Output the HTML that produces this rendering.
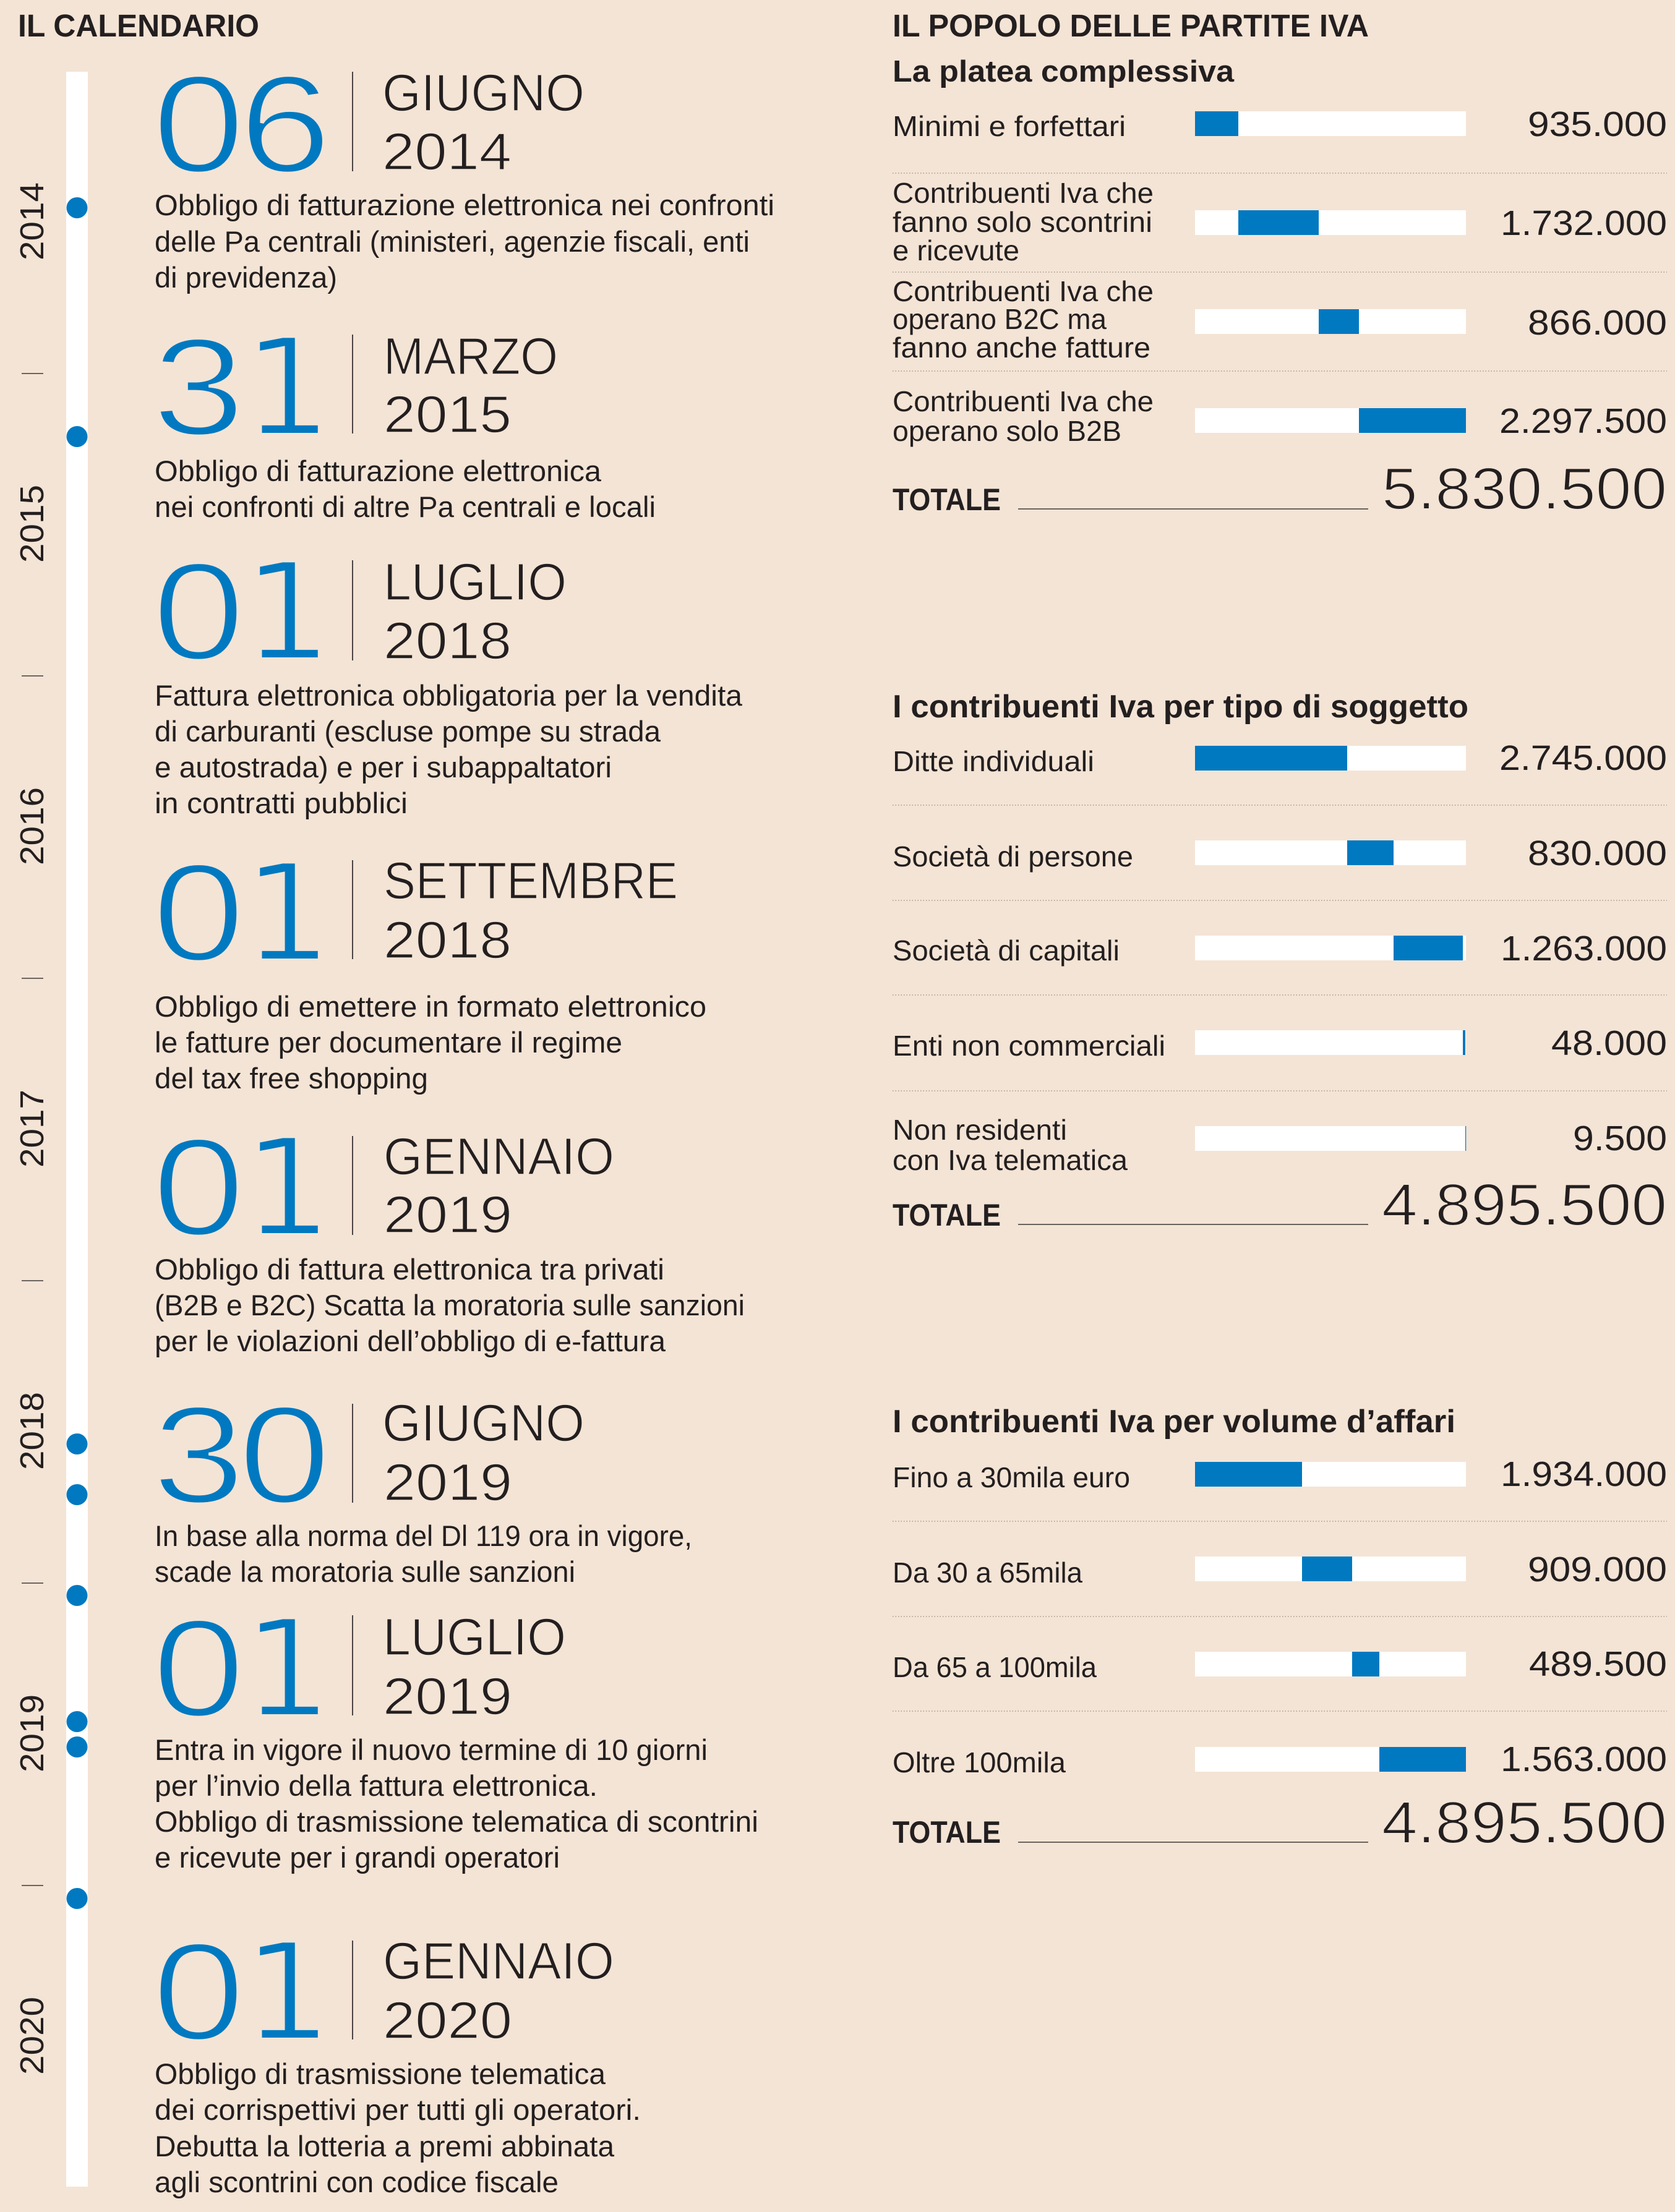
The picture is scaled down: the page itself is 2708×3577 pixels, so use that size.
<!DOCTYPE html>
<html><head><meta charset="utf-8"><style>
html,body{margin:0;padding:0;background:#f4e4d5;}
svg{display:block;}
.t{font-family:"Liberation Sans",sans-serif;fill:#231f20;}
.m{font-family:"Liberation Sans",sans-serif;fill:#231f20;stroke:#f4e4d5;stroke-width:1.5;}
.b{font-family:"Liberation Sans",sans-serif;font-weight:bold;fill:#231f20;}
.d{font-family:"Liberation Sans",sans-serif;fill:#0079c1;stroke:#f4e4d5;stroke-width:5;}
.d1{font-family:"DejaVu Sans",sans-serif;fill:#0079c1;stroke:#f4e4d5;stroke-width:6;}
.big{font-family:"Liberation Sans",sans-serif;fill:#231f20;stroke:#f4e4d5;stroke-width:2;}
.dot{stroke:#a0968c;stroke-width:1.5;stroke-dasharray:1.5 3;}
</style></head><body>
<svg width="2708" height="3577" viewBox="0 0 2708 3577" xmlns="http://www.w3.org/2000/svg">
<rect width="2708" height="3577" fill="#f4e4d5"/>

<!-- LEFT HEADER -->
<text class="b" x="29" y="59" font-size="51" textLength="390" lengthAdjust="spacingAndGlyphs">IL CALENDARIO</text>

<!-- TIMELINE -->
<rect x="107" y="116" width="35" height="3420" fill="#ffffff"/>
<g fill="#0079c1">
<circle cx="124.5" cy="336" r="17"/>
<circle cx="124.5" cy="706" r="17"/>
<circle cx="124.5" cy="2335" r="17"/>
<circle cx="124.5" cy="2417" r="17"/>
<circle cx="124.5" cy="2580" r="17"/>
<circle cx="124.5" cy="2784" r="17"/>
<circle cx="124.5" cy="2825" r="17"/>
<circle cx="124.5" cy="3070" r="17"/>
</g>
<g stroke="#6b6560" stroke-width="2">
<line x1="35" x2="70" y1="604" y2="604"/>
<line x1="35" x2="70" y1="1093" y2="1093"/>
<line x1="35" x2="70" y1="1582" y2="1582"/>
<line x1="35" x2="70" y1="2071" y2="2071"/>
<line x1="35" x2="70" y1="2560" y2="2560"/>
<line x1="35" x2="70" y1="3049" y2="3049"/>
</g>
<g class="t" font-size="54" text-anchor="middle">
<text transform="translate(70,358) rotate(-90)" textLength="126" lengthAdjust="spacingAndGlyphs">2014</text>
<text transform="translate(70,847) rotate(-90)" textLength="126" lengthAdjust="spacingAndGlyphs">2015</text>
<text transform="translate(70,1336) rotate(-90)" textLength="126" lengthAdjust="spacingAndGlyphs">2016</text>
<text transform="translate(70,1825) rotate(-90)" textLength="126" lengthAdjust="spacingAndGlyphs">2017</text>
<text transform="translate(70,2314) rotate(-90)" textLength="126" lengthAdjust="spacingAndGlyphs">2018</text>
<text transform="translate(70,2803) rotate(-90)" textLength="126" lengthAdjust="spacingAndGlyphs">2019</text>
<text transform="translate(70,3292) rotate(-90)" textLength="126" lengthAdjust="spacingAndGlyphs">2020</text>
</g>

<!-- DIVIDERS -->
<g stroke="#4a4543" stroke-width="2">
<line x1="570" x2="570" y1="116" y2="277"/>
<line x1="570" x2="570" y1="541" y2="701"/>
<line x1="570" x2="570" y1="906" y2="1068"/>
<line x1="570" x2="570" y1="1391" y2="1551"/>
<line x1="570" x2="570" y1="1837" y2="1997"/>
<line x1="570" x2="570" y1="2270" y2="2430"/>
<line x1="570" x2="570" y1="2612" y2="2774"/>
<line x1="570" x2="570" y1="3138" y2="3298"/>
</g>

<!-- BIG DIGITS -->
<g class="d" font-size="224" text-anchor="middle">
<text transform="translate(321,278) scale(1.2,1)">0</text><text transform="translate(461,278) scale(1.2,1)">6</text>
<text transform="translate(321,703) scale(1.2,1)">3</text>
<text transform="translate(321,1066) scale(1.2,1)">0</text>
<text transform="translate(321,1553) scale(1.2,1)">0</text>
<text transform="translate(321,1997) scale(1.2,1)">0</text>
<text transform="translate(321,2430) scale(1.2,1)">3</text><text transform="translate(460,2430) scale(1.2,1)">0</text>
<text transform="translate(321,2775) scale(1.2,1)">0</text>
<text transform="translate(321,3298) scale(1.2,1)">0</text>
</g>
<g class="d1" font-size="219" text-anchor="middle">
<text transform="translate(465,703) scale(1.05,1)">1</text>
<text transform="translate(465,1066) scale(1.05,1)">1</text>
<text transform="translate(465,1553) scale(1.05,1)">1</text>
<text transform="translate(465,1997) scale(1.05,1)">1</text>
<text transform="translate(465,2775) scale(1.05,1)">1</text>
<text transform="translate(465,3298) scale(1.05,1)">1</text>
</g>

<!-- MONTHS / YEARS -->
<g class="m" font-size="84">
<text x="618" y="179" textLength="327" lengthAdjust="spacingAndGlyphs">GIUGNO</text>
<text x="618" y="274" textLength="209" lengthAdjust="spacingAndGlyphs">2014</text>
<text x="620" y="605" textLength="282" lengthAdjust="spacingAndGlyphs">MARZO</text>
<text x="620" y="699" textLength="207" lengthAdjust="spacingAndGlyphs">2015</text>
<text x="620" y="970" textLength="296" lengthAdjust="spacingAndGlyphs">LUGLIO</text>
<text x="620" y="1065" textLength="207" lengthAdjust="spacingAndGlyphs">2018</text>
<text x="620" y="1453" textLength="476" lengthAdjust="spacingAndGlyphs">SETTEMBRE</text>
<text x="620" y="1549" textLength="207" lengthAdjust="spacingAndGlyphs">2018</text>
<text x="620" y="1899" textLength="373" lengthAdjust="spacingAndGlyphs">GENNAIO</text>
<text x="620" y="1993" textLength="208" lengthAdjust="spacingAndGlyphs">2019</text>
<text x="618" y="2330" textLength="327" lengthAdjust="spacingAndGlyphs">GIUGNO</text>
<text x="620" y="2426" textLength="208" lengthAdjust="spacingAndGlyphs">2019</text>
<text x="619" y="2676" textLength="296" lengthAdjust="spacingAndGlyphs">LUGLIO</text>
<text x="619" y="2772" textLength="209" lengthAdjust="spacingAndGlyphs">2019</text>
<text x="619" y="3200" textLength="374" lengthAdjust="spacingAndGlyphs">GENNAIO</text>
<text x="619" y="3296" textLength="209" lengthAdjust="spacingAndGlyphs">2020</text>
</g>

<!-- BODY TEXT -->
<g class="t" font-size="47">
<text x="250" y="348" textLength="1002" lengthAdjust="spacingAndGlyphs">Obbligo di fatturazione elettronica nei confronti</text>
<text x="250" y="407" textLength="962" lengthAdjust="spacingAndGlyphs">delle Pa centrali (ministeri, agenzie fiscali, enti</text>
<text x="250" y="465" textLength="295" lengthAdjust="spacingAndGlyphs">di previdenza)</text>

<text x="250" y="778" textLength="722" lengthAdjust="spacingAndGlyphs">Obbligo di fatturazione elettronica</text>
<text x="250" y="836" textLength="810" lengthAdjust="spacingAndGlyphs">nei confronti di altre Pa centrali e locali</text>

<text x="250" y="1141" textLength="950" lengthAdjust="spacingAndGlyphs">Fattura elettronica obbligatoria per la vendita</text>
<text x="250" y="1199" textLength="818" lengthAdjust="spacingAndGlyphs">di carburanti (escluse pompe su strada</text>
<text x="250" y="1257" textLength="739" lengthAdjust="spacingAndGlyphs">e autostrada) e per i subappaltatori</text>
<text x="250" y="1315" textLength="409" lengthAdjust="spacingAndGlyphs">in contratti pubblici</text>

<text x="250" y="1644" textLength="892" lengthAdjust="spacingAndGlyphs">Obbligo di emettere in formato elettronico</text>
<text x="250" y="1702" textLength="756" lengthAdjust="spacingAndGlyphs">le fatture per documentare il regime</text>
<text x="250" y="1760" textLength="442" lengthAdjust="spacingAndGlyphs">del tax free shopping</text>

<text x="250" y="2069" textLength="824" lengthAdjust="spacingAndGlyphs">Obbligo di fattura elettronica tra privati</text>
<text x="250" y="2127" textLength="954" lengthAdjust="spacingAndGlyphs">(B2B e B2C) Scatta la moratoria sulle sanzioni</text>
<text x="250" y="2185" textLength="826" lengthAdjust="spacingAndGlyphs">per le violazioni dell’obbligo di e-fattura</text>

<text x="250" y="2500" textLength="869" lengthAdjust="spacingAndGlyphs">In base alla norma del Dl 119 ora in vigore,</text>
<text x="250" y="2558" textLength="680" lengthAdjust="spacingAndGlyphs">scade la moratoria sulle sanzioni</text>

<text x="250" y="2846" textLength="894" lengthAdjust="spacingAndGlyphs">Entra in vigore il nuovo termine di 10 giorni</text>
<text x="250" y="2904" textLength="716" lengthAdjust="spacingAndGlyphs">per l’invio della fattura elettronica.</text>
<text x="250" y="2962" textLength="976" lengthAdjust="spacingAndGlyphs">Obbligo di trasmissione telematica di scontrini</text>
<text x="250" y="3020" textLength="655" lengthAdjust="spacingAndGlyphs">e ricevute per i grandi operatori</text>

<text x="250" y="3370" textLength="729" lengthAdjust="spacingAndGlyphs">Obbligo di trasmissione telematica</text>
<text x="250" y="3428" textLength="786" lengthAdjust="spacingAndGlyphs">dei corrispettivi per tutti gli operatori.</text>
<text x="250" y="3487" textLength="743" lengthAdjust="spacingAndGlyphs">Debutta la lotteria a premi abbinata</text>
<text x="250" y="3545" textLength="653" lengthAdjust="spacingAndGlyphs">agli scontrini con codice fiscale</text>
</g>

<!-- RIGHT HEADERS -->
<text class="b" x="1443" y="59" font-size="51" textLength="770" lengthAdjust="spacingAndGlyphs">IL POPOLO DELLE PARTITE IVA</text>
<text class="b" x="1443" y="132" font-size="49" textLength="552" lengthAdjust="spacingAndGlyphs">La platea complessiva</text>
<text class="b" x="1443" y="1160" font-size="52" textLength="931" lengthAdjust="spacingAndGlyphs">I contribuenti Iva per tipo di soggetto</text>
<text class="b" x="1443" y="2316" font-size="52" textLength="910" lengthAdjust="spacingAndGlyphs">I contribuenti Iva per volume d’affari</text>

<!-- DOTTED LINES -->
<g class="dot">
<line x1="1443" x2="2695" y1="280" y2="280"/>
<line x1="1443" x2="2695" y1="440" y2="440"/>
<line x1="1443" x2="2695" y1="600" y2="600"/>
<line x1="1443" x2="2695" y1="1302" y2="1302"/>
<line x1="1443" x2="2695" y1="1456" y2="1456"/>
<line x1="1443" x2="2695" y1="1609" y2="1609"/>
<line x1="1443" x2="2695" y1="1764" y2="1764"/>
<line x1="1443" x2="2695" y1="2460" y2="2460"/>
<line x1="1443" x2="2695" y1="2614" y2="2614"/>
<line x1="1443" x2="2695" y1="2767" y2="2767"/>
</g>

<!-- BARS -->
<g fill="#ffffff">
<rect x="1932" y="180" width="438" height="40"/>
<rect x="1932" y="340" width="438" height="40"/>
<rect x="1932" y="500" width="438" height="40"/>
<rect x="1932" y="660" width="438" height="40"/>
<rect x="1932" y="1206" width="438" height="40"/>
<rect x="1932" y="1359" width="438" height="40"/>
<rect x="1932" y="1513" width="438" height="40"/>
<rect x="1932" y="1666" width="438" height="40"/>
<rect x="1932" y="1821" width="438" height="40"/>
<rect x="1932" y="2364" width="438" height="40"/>
<rect x="1932" y="2517" width="438" height="40"/>
<rect x="1932" y="2671" width="438" height="40"/>
<rect x="1932" y="2825" width="438" height="40"/>
</g>
<g fill="#0079c1">
<rect x="1932" y="180" width="70" height="40"/>
<rect x="2002" y="340" width="130" height="40"/>
<rect x="2132" y="500" width="65" height="40"/>
<rect x="2197" y="660" width="173" height="40"/>
<rect x="1932" y="1206" width="246" height="40"/>
<rect x="2178" y="1359" width="75" height="40"/>
<rect x="2253" y="1513" width="112" height="40"/>
<rect x="2365" y="1666" width="4" height="40"/>
<rect x="2369" y="1821" width="1.2" height="40"/>
<rect x="1932" y="2364" width="173" height="40"/>
<rect x="2105" y="2517" width="81" height="40"/>
<rect x="2186" y="2671" width="44" height="40"/>
<rect x="2230" y="2825" width="140" height="40"/>
</g>

<!-- LABELS -->
<g class="t" font-size="46">
<text x="1443" y="220" textLength="377" lengthAdjust="spacingAndGlyphs">Minimi e forfettari</text>
<text x="1443" y="328" textLength="422" lengthAdjust="spacingAndGlyphs">Contribuenti Iva che</text>
<text x="1443" y="375" textLength="420" lengthAdjust="spacingAndGlyphs">fanno solo scontrini</text>
<text x="1443" y="421" textLength="205" lengthAdjust="spacingAndGlyphs">e ricevute</text>
<text x="1443" y="487" textLength="422" lengthAdjust="spacingAndGlyphs">Contribuenti Iva che</text>
<text x="1443" y="532" textLength="346" lengthAdjust="spacingAndGlyphs">operano B2C ma</text>
<text x="1443" y="578" textLength="417" lengthAdjust="spacingAndGlyphs">fanno anche fatture</text>
<text x="1443" y="665" textLength="422" lengthAdjust="spacingAndGlyphs">Contribuenti Iva che</text>
<text x="1443" y="713" textLength="370" lengthAdjust="spacingAndGlyphs">operano solo B2B</text>

<text x="1443" y="1247" textLength="326" lengthAdjust="spacingAndGlyphs">Ditte individuali</text>
<text x="1443" y="1401" textLength="389" lengthAdjust="spacingAndGlyphs">Società di persone</text>
<text x="1443" y="1553" textLength="367" lengthAdjust="spacingAndGlyphs">Società di capitali</text>
<text x="1443" y="1707" textLength="441" lengthAdjust="spacingAndGlyphs">Enti non commerciali</text>
<text x="1443" y="1843" textLength="282" lengthAdjust="spacingAndGlyphs">Non residenti</text>
<text x="1443" y="1892" textLength="380" lengthAdjust="spacingAndGlyphs">con Iva telematica</text>

<text x="1443" y="2405" textLength="384" lengthAdjust="spacingAndGlyphs">Fino a 30mila euro</text>
<text x="1443" y="2559" textLength="307" lengthAdjust="spacingAndGlyphs">Da 30 a 65mila</text>
<text x="1443" y="2712" textLength="330" lengthAdjust="spacingAndGlyphs">Da 65 a 100mila</text>
<text x="1443" y="2866" textLength="280" lengthAdjust="spacingAndGlyphs">Oltre 100mila</text>
</g>

<!-- VALUES -->
<g class="t" font-size="57" text-anchor="end">
<text x="2695" y="220" textLength="225" lengthAdjust="spacingAndGlyphs">935.000</text>
<text x="2695" y="380" textLength="269" lengthAdjust="spacingAndGlyphs">1.732.000</text>
<text x="2695" y="541" textLength="225" lengthAdjust="spacingAndGlyphs">866.000</text>
<text x="2695" y="700" textLength="271" lengthAdjust="spacingAndGlyphs">2.297.500</text>

<text x="2695" y="1245" textLength="271" lengthAdjust="spacingAndGlyphs">2.745.000</text>
<text x="2695" y="1399" textLength="225" lengthAdjust="spacingAndGlyphs">830.000</text>
<text x="2695" y="1553" textLength="269" lengthAdjust="spacingAndGlyphs">1.263.000</text>
<text x="2695" y="1706" textLength="187" lengthAdjust="spacingAndGlyphs">48.000</text>
<text x="2695" y="1860" textLength="152" lengthAdjust="spacingAndGlyphs">9.500</text>

<text x="2695" y="2403" textLength="269" lengthAdjust="spacingAndGlyphs">1.934.000</text>
<text x="2695" y="2557" textLength="225" lengthAdjust="spacingAndGlyphs">909.000</text>
<text x="2695" y="2710" textLength="223" lengthAdjust="spacingAndGlyphs">489.500</text>
<text x="2695" y="2864" textLength="269" lengthAdjust="spacingAndGlyphs">1.563.000</text>
</g>

<!-- TOTALS -->
<g class="b" font-size="50">
<text x="1443" y="825" textLength="175" lengthAdjust="spacingAndGlyphs">TOTALE</text>
<text x="1443" y="1982" textLength="175" lengthAdjust="spacingAndGlyphs">TOTALE</text>
<text x="1443" y="2980" textLength="175" lengthAdjust="spacingAndGlyphs">TOTALE</text>
</g>
<g stroke="#6a625c" stroke-width="2">
<line x1="1646" x2="2212" y1="823" y2="823"/>
<line x1="1646" x2="2212" y1="1980" y2="1980"/>
<line x1="1646" x2="2212" y1="2979" y2="2979"/>
</g>
<g class="big" font-size="96" text-anchor="end">
<text x="2695" y="823" textLength="461" lengthAdjust="spacingAndGlyphs">5.830.500</text>
<text x="2695" y="1981" textLength="461" lengthAdjust="spacingAndGlyphs">4.895.500</text>
<text x="2695" y="2980" textLength="461" lengthAdjust="spacingAndGlyphs">4.895.500</text>
</g>
</svg>
</body></html>
